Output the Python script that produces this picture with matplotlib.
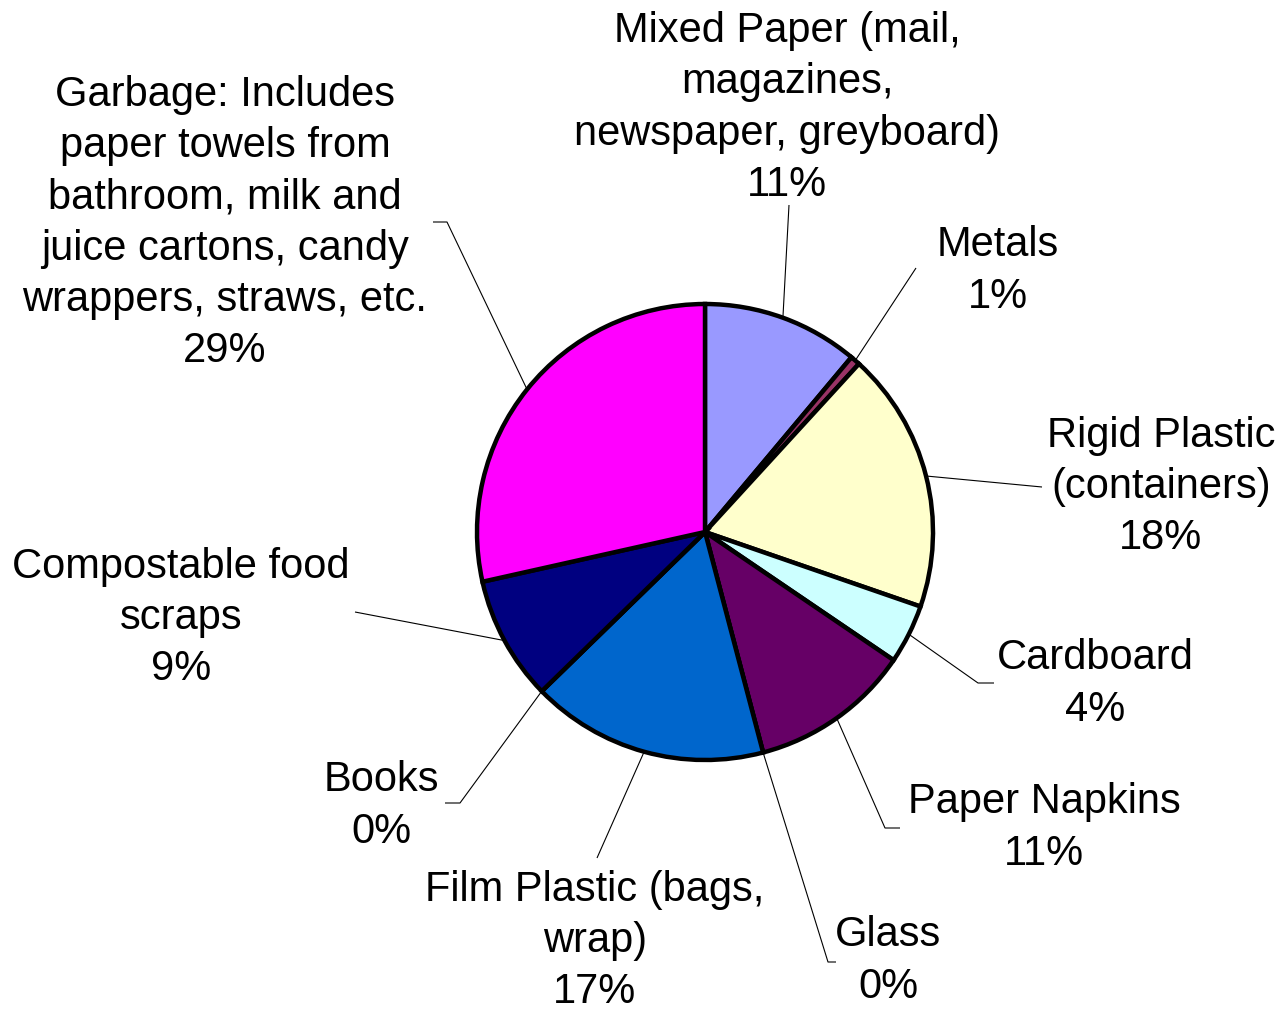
import numpy as np
import matplotlib
matplotlib.use("Agg")
import matplotlib.pyplot as plt

plt.rcParams['font.family'] = ['Liberation Sans', 'DejaVu Sans']

# ---- data ----
categories = ["Mixed Paper (mail,\nmagazines,\nnewspaper, greyboard)",
              "Metals",
              "Rigid Plastic\n(containers)",
              "Cardboard",
              "Paper Napkins",
              "Glass",
              "Film Plastic (bags,\nwrap)",
              "Books",
              "Compostable food\nscraps",
              "Garbage: Includes\npaper towels from\nbathroom, milk and\njuice cartons, candy\nwrappers, straws, etc."]
values = [11.1, 0.7, 18.5, 4.2, 11.4, 0.0, 16.8, 0.0, 8.8, 28.5]
pct_labels = ["11%", "1%", "18%", "4%", "11%", "0%", "17%", "0%", "9%", "29%"]
colors = ["#9999FF", "#993366", "#FFFFCC", "#CCFFFF", "#660066",
          "#FF8080", "#0066CC", "#CCCCFF", "#000080", "#FF00FF"]

# ---- layout (pixel coordinates of the image, y from top) ----
W, H = 1282, 1011
center_px = (705, 532)
radius = 228
label_pos = [(787, 108), (998, 271), (1161, 487), (1095, 684), (1044, 828),
             (888, 961), (595, 941), (381, 806), (181, 618), (225, 223)]
leader_pts = [((789, 205), (789, 205)),
              ((916, 268), (916, 268)),
              ((1042, 487), (1042, 487)),
              ((994, 683), (978, 683)),
              ((900, 828), (885, 828)),
              ((836, 962), (828, 962)),
              ((597, 858), (597, 858)),
              ((445, 803), (460, 803)),
              ((355, 612), (355, 612)),
              ((433, 222), (447, 222))]

fig = plt.figure(figsize=(W / 100, H / 100), dpi=100)
ax = fig.add_axes([0, 0, 1, 1])
ax.set_xlim(0, W)
ax.set_ylim(0, H)
ax.set_aspect('equal')
ax.axis('off')

cx, cy = center_px[0], H - center_px[1]
wedges, _ = ax.pie(values, colors=colors, startangle=90, counterclock=False,
                   center=(cx, cy), radius=radius, normalize=True,
                   wedgeprops=dict(edgecolor='black', linewidth=3.2))
ax.set_xlim(0, W)
ax.set_ylim(0, H)

for i, w in enumerate(wedges):
    ang = np.deg2rad((w.theta1 + w.theta2) / 2)
    px = cx + radius * np.cos(ang)
    py = cy + radius * np.sin(ang)
    (sx, sy), (ex, ey) = leader_pts[i]
    ax.plot([sx, ex, px], [H - sy, H - ey, py], color='black', lw=0.8,
            solid_capstyle='butt', zorder=0.5)
    lx, ly = label_pos[i]
    ax.text(lx, H - ly, categories[i] + "\n" + pct_labels[i], ha='center',
            va='center', fontsize=30, linespacing=1.36, color='black')

fig.savefig("out.png", dpi=100, facecolor='white')
